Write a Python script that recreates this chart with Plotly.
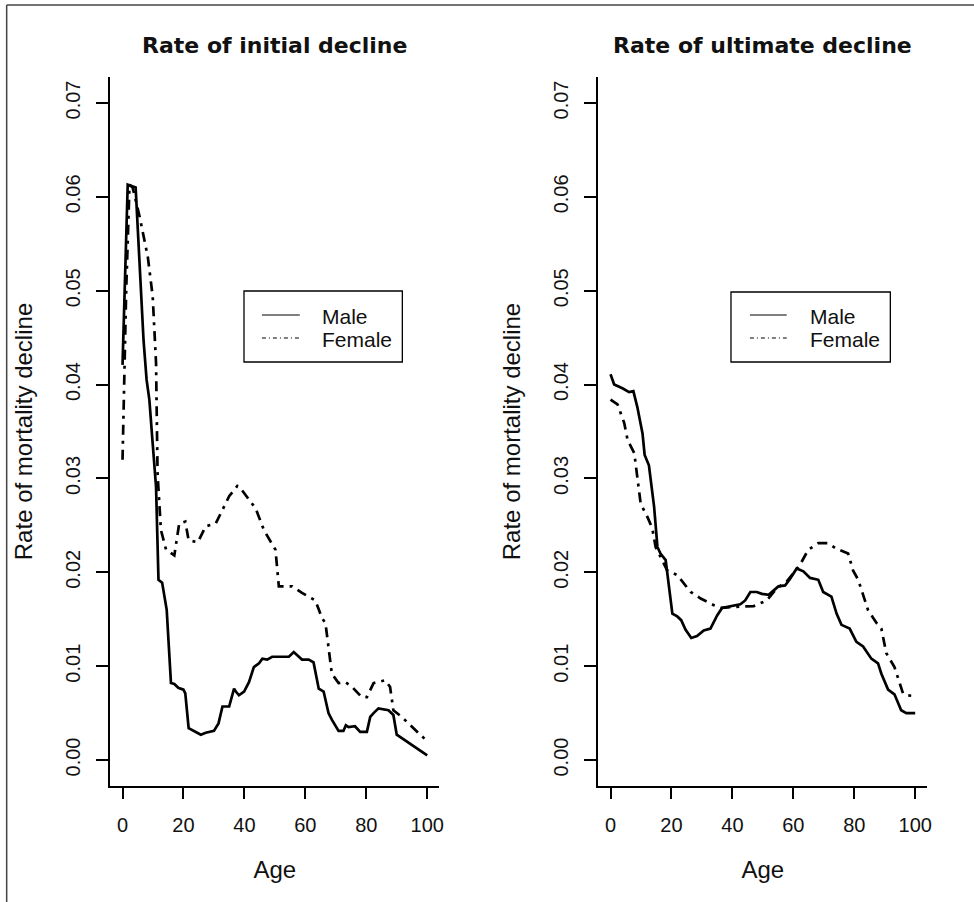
import plotly.graph_objects as go

# ---------------- data ----------------
age_init_male = [0, 1.7, 4.3, 6.9, 7.9, 8.8, 9.9, 11.0, 11.8, 13.0, 14.5, 15.9, 17.0, 18.3, 20.0,
                 20.6, 21.7, 23.0, 25.7, 27.3, 30.0, 31.5, 32.8, 35.0, 36.6, 37.2, 38.2, 39.9, 41.5, 43.1,
                 44.8, 45.9, 47.5, 49.1, 54.6, 56.2, 57.3, 58.9, 61.1, 62.7, 64.4, 66.0, 67.6, 68.7, 70.9,
                 72.5, 73.3, 74.2, 76.3, 78.0, 80.2, 81.3, 82.4, 84.0, 87.3, 88.9, 90.0, 92.7, 96.0, 100]
init_male = [0.0421, 0.0613, 0.0610, 0.0447, 0.0405, 0.0384, 0.0337, 0.0291, 0.0192, 0.0189, 0.0160, 0.0082,
             0.0081, 0.0077, 0.0075, 0.0071, 0.0034, 0.0032, 0.0027, 0.0029, 0.0031, 0.0039, 0.0057, 0.0057,
             0.0076, 0.0073, 0.0069, 0.0073, 0.0083, 0.0099, 0.0103, 0.0108, 0.0107, 0.0110, 0.0110, 0.0115,
             0.0112, 0.0107, 0.0107, 0.0104, 0.0076, 0.0073, 0.0050, 0.0043, 0.0031, 0.0031, 0.0037, 0.0035,
             0.0036, 0.0030, 0.0030, 0.0046, 0.0050, 0.0055, 0.0053, 0.0048, 0.0027, 0.0021, 0.0014, 0.0005]

age_init_female = [0, 0.3, 0.7, 1.2, 2.3, 3.3, 5.6, 8.3, 9.9, 11.0, 11.5, 12.6, 14.3, 17.0, 18.6, 20.6, 21.7,
                   24.7, 27.3, 30.6, 35.0, 37.7, 38.4, 43.7, 46.4, 50.2, 51.3, 55.7, 58.9, 63.3, 65.5, 66.6,
                   68.7, 70.9, 73.1, 75.3, 78.5, 80.2, 82.4, 86.2, 87.8, 88.9, 91.6, 96.0, 100]
init_female = [0.0320, 0.0370, 0.0410, 0.0500, 0.0613, 0.0610, 0.0579, 0.0536, 0.0494, 0.0423, 0.0305, 0.0245,
               0.0224, 0.0218, 0.0252, 0.0254, 0.0234, 0.0232, 0.0249, 0.0252, 0.0281, 0.0292, 0.0291, 0.0268,
               0.0245, 0.0224, 0.0185, 0.0185, 0.0178, 0.0170, 0.0151, 0.0146, 0.0092, 0.0082, 0.0083, 0.0078,
               0.0067, 0.0067, 0.0082, 0.0085, 0.0078, 0.0053, 0.0046, 0.0032, 0.0020]

age_ult_male = [0, 1.2, 3.9, 6.1, 7.5, 8.8, 10.5, 11.2, 12.6, 14.3, 15.4, 16.4, 18.1, 19.2, 20.3, 21.9, 23.2,
                24.6, 26.5, 28.4, 30.6, 32.8, 35.0, 36.6, 39.3, 42.6, 44.2, 45.9, 48.0, 49.7, 51.9, 53.5, 55.1,
                57.3, 58.9, 61.1, 63.3, 65.5, 68.2, 69.8, 72.5, 74.2, 75.8, 78.5, 80.7, 82.9, 85.6, 87.8, 88.9,
                91.1, 93.2, 95.4, 97.1, 100]
ult_male = [0.0411, 0.0400, 0.0396, 0.0392, 0.0393, 0.0376, 0.0348, 0.0325, 0.0314, 0.0270, 0.0227, 0.0220,
            0.0213, 0.0185, 0.0156, 0.0153, 0.0149, 0.0139, 0.0130, 0.0132, 0.0138, 0.0140, 0.0154, 0.0162,
            0.0164, 0.0166, 0.0170, 0.0179, 0.0179, 0.0177, 0.0176, 0.0181, 0.0185, 0.0186, 0.0193, 0.0204,
            0.0201, 0.0194, 0.0192, 0.0179, 0.0174, 0.0156, 0.0144, 0.0140, 0.0126, 0.0121, 0.0108, 0.0103,
            0.0092, 0.0075, 0.0070, 0.0053, 0.0050, 0.0050]

age_ult_female = [0, 2.3, 4.5, 5.6, 7.8, 9.9, 12.1, 13.7, 14.8, 16.4, 18.6, 21.9, 24.1, 26.3, 29.6, 33.9, 36.6,
                  39.9, 47.0, 51.3, 54.6, 57.8, 60.0, 62.2, 64.9, 68.2, 71.4, 74.2, 78.0, 79.6, 81.3, 84.5,
                  87.3, 88.9, 90.5, 93.2, 94.9, 96.0, 97.1, 100]
ult_female = [0.0384, 0.0379, 0.0359, 0.0341, 0.0327, 0.0273, 0.0259, 0.0247, 0.0227, 0.0217, 0.0202, 0.0197,
              0.0188, 0.0179, 0.0172, 0.0165, 0.0162, 0.0163, 0.0164, 0.0170, 0.0183, 0.0190, 0.0199, 0.0208,
              0.0224, 0.0231, 0.0231, 0.0225, 0.0220, 0.0202, 0.0192, 0.0160, 0.0146, 0.0140, 0.0114, 0.0099,
              0.0082, 0.0071, 0.0069, 0.0068]

panel_titles = ["Rate of initial decline", "Rate of ultimate decline"]
series_names = ["Male", "Female"]
x_ticks = [0, 20, 40, 60, 80, 100]
y_ticks = [0.00, 0.01, 0.02, 0.03, 0.04, 0.05, 0.06, 0.07]
y_ticktext = ["0.00", "0.01", "0.02", "0.03", "0.04", "0.05", "0.06", "0.07"]
x_title = "Age"
y_title = "Rate of mortality decline"

# ---------------- layout helpers ----------------
W, H = 974, 902
def px(x):
    return x / W
def py(y):
    return 1 - y / H

ARIAL = "Liberation Sans, Arial, sans-serif"
BOLD = "DejaVu Sans, Liberation Sans, sans-serif"
INK = "#000000"
FEMALE_DASH = "10px,6px,3px,6px"
LW = 2.7

fig = go.Figure()
panels = [
    ("x", "y", age_init_male, init_male, age_init_female, init_female),
    ("x2", "y2", age_ult_male, ult_male, age_ult_female, ult_female),
]
for xa, ya, am, vm, af, vf in panels:
    fig.add_trace(go.Scatter(x=am, y=vm, mode="lines", name=series_names[0], xaxis=xa, yaxis=ya,
                             line=dict(color=INK, width=LW), showlegend=False))
    fig.add_trace(go.Scatter(x=af, y=vf, mode="lines", name=series_names[1], xaxis=xa, yaxis=ya,
                             line=dict(color=INK, width=LW, dash=FEMALE_DASH), showlegend=False))

x_domains = [[px(110.8), px(441.2)], [px(600.8), px(931.2)]]
y_domain = [py(786.3), py(76.7)]

def xaxis_cfg(dom):
    return dict(domain=dom, range=[-4, 104], tickvals=x_ticks, ticks="outside", ticklen=11, tickwidth=1.5,
                tickcolor=INK, showline=True, linewidth=1.8, linecolor=INK, showgrid=False, zeroline=False,
                tickfont=dict(family=ARIAL, size=20, color="#111"), ticklabelstandoff=9,
                title=dict(text=x_title, font=dict(family=ARIAL, size=24, color="#111"), standoff=26))

def yaxis_cfg(anchor):
    return dict(domain=y_domain, anchor=anchor, range=[-0.0028, 0.0728], tickvals=y_ticks, ticktext=y_ticktext,
                tickangle=-90, ticks="outside", ticklen=12, tickwidth=1.5, tickcolor=INK, showline=True,
                linewidth=1.8, linecolor=INK, showgrid=False, zeroline=False,
                tickfont=dict(family=ARIAL, size=20, color="#111"), ticklabelstandoff=8,
                title=dict(text=y_title, font=dict(family=ARIAL, size=24, color="#111"), standoff=23))

fig.update_layout(
    width=W, height=H, autosize=False,
    margin=dict(l=0, r=0, t=0, b=0),
    paper_bgcolor="white", plot_bgcolor="white",
    xaxis=dict(xaxis_cfg(x_domains[0]), anchor="y"),
    yaxis=yaxis_cfg("x"),
    xaxis2=dict(xaxis_cfg(x_domains[1]), anchor="y2"),
    yaxis2=yaxis_cfg("x2"),
    showlegend=False,
)

# panel titles
for i, dom in enumerate(x_domains):
    fig.add_annotation(text="<b>%s</b>" % panel_titles[i], xref="paper", yref="paper",
                       x=(dom[0] + dom[1]) / 2, y=py(45), xanchor="center", yanchor="middle",
                       showarrow=False, font=dict(family=BOLD, size=22, color="#111"))

# figure border (cropped frame)
fig.add_shape(type="line", xref="paper", yref="paper", x0=px(6.7), x1=px(6.7), y0=py(5), y1=py(910),
              line=dict(color="#444", width=1.5))
fig.add_shape(type="line", xref="paper", yref="paper", x0=px(6.7), x1=px(980), y0=py(5), y1=py(5),
              line=dict(color="#444", width=1.5))

# legends (drawn in each panel)
legend_boxes = [(245, 291, 404, 362, 263, 301, 321), (734, 292, 894, 362, 753, 790, 811)]
for (bx0, by0, bx1, by1, lx0, lx1, tx) in legend_boxes:
    fig.add_shape(type="rect", xref="paper", yref="paper", x0=px(bx0), x1=px(bx1), y0=py(by0), y1=py(by1),
                  line=dict(color=INK, width=1.3), fillcolor="white", layer="above")
    for k, (name, dash, yy) in enumerate([(series_names[0], "solid", 315), (series_names[1], "4px,3px,1px,3px", 338)]):
        fig.add_shape(type="line", xref="paper", yref="paper", x0=px(lx0), x1=px(lx1), y0=py(yy), y1=py(yy),
                      line=dict(color=INK, width=1.2, dash=dash), layer="above")
        fig.add_annotation(text=name, xref="paper", yref="paper", x=px(tx), y=py(yy + 1), xanchor="left",
                           yanchor="middle", showarrow=False, font=dict(family=ARIAL, size=21, color="#111"))

fig.write_html("out.html", config={"displayModeBar": False},
               post_script="document.body.style.margin='0px';document.body.style.overflow='hidden';")
